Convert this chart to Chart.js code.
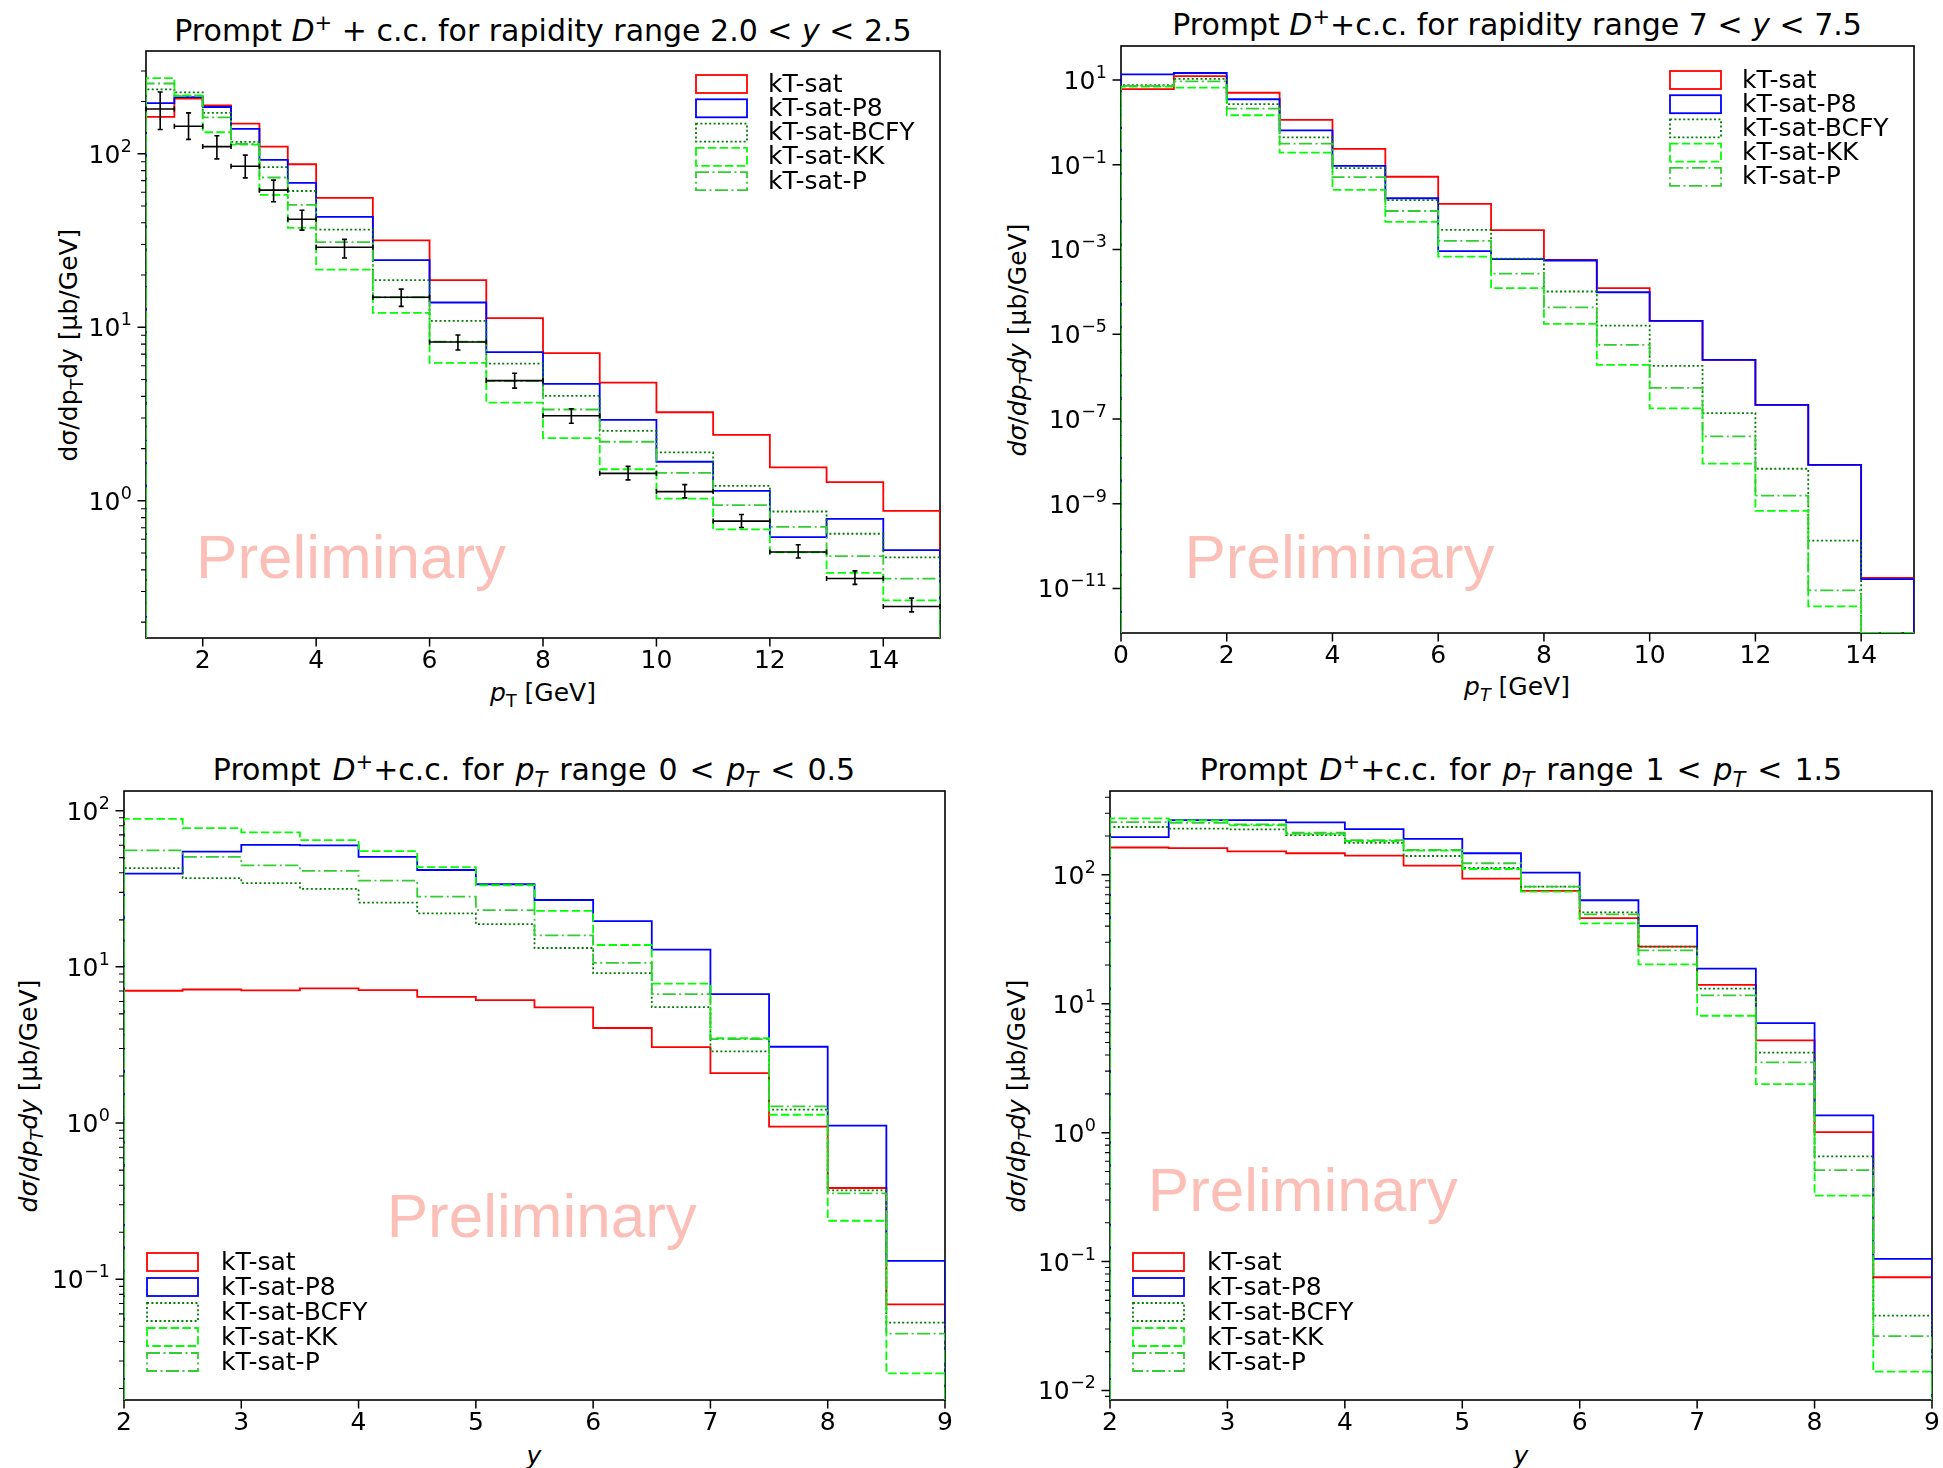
<!DOCTYPE html>
<html>
<head>
<meta charset="utf-8">
<title>Prompt D+ cross sections</title>
<script src="https://cdn.jsdelivr.net/npm/chart.js@4.4.1/dist/chart.umd.min.js"></script>
<style>
  html, body { margin: 0; padding: 0; background: #fff; }
  #fig { position: relative; width: 1943px; height: 1468px; overflow: hidden; font-family: 'DejaVu Sans', sans-serif; color: #000; }
  #fig canvas { position: absolute; }
  .ttl, .xl, .yl { position: absolute; white-space: nowrap; }
  .ttl { font-size: 30px; line-height: 30px; transform: translateX(-50%); }
  .ttl.wide { word-spacing: 2.4px; }
  .xl { font-size: 25px; line-height: 25px; transform: translateX(-50%); }
  .yl { font-size: 25px; line-height: 25px; transform: translate(-50%, -50%) rotate(-90deg); }
  sub, sup { font-size: 70%; line-height: 0; }
  i { font-style: oblique; }
</style>
</head>
<body>
<div id="fig">
  <div class="ttl" style="left:543px;top:16px">Prompt <i>D</i><sup>+</sup> + c.c. for rapidity range 2.0 &lt; <i>y</i> &lt; 2.5</div>
  <div class="ttl" style="left:1517px;top:10px">Prompt <i>D</i><sup>+</sup>+c.c. for rapidity range 7 &lt; <i>y</i> &lt; 7.5</div>
  <div class="ttl wide" style="left:534px;top:755px">Prompt <i>D</i><sup>+</sup>+c.c. for <i>p<sub>T</sub></i> range 0 &lt; <i>p<sub>T</sub></i> &lt; 0.5</div>
  <div class="ttl wide" style="left:1521px;top:755px">Prompt <i>D</i><sup>+</sup>+c.c. for <i>p<sub>T</sub></i> range 1 &lt; <i>p<sub>T</sub></i> &lt; 1.5</div>

  <div class="xl" style="left:543px;top:680px"><i>p</i><sub>T</sub> [GeV]</div>
  <div class="xl" style="left:1517px;top:674px"><i>p<sub>T</sub></i> [GeV]</div>
  <div class="xl" style="left:534px;top:1443px"><i>y</i></div>
  <div class="xl" style="left:1521px;top:1443px"><i>y</i></div>

  <div class="yl" style="left:68px;top:345px">dσ/dp<sub>T</sub>dy [μb/GeV]</div>
  <div class="yl" style="left:1017px;top:340px"><i>dσ</i>/<i>dp<sub>T</sub>dy</i> [μb/GeV]</div>
  <div class="yl" style="left:28px;top:1096px"><i>dσ</i>/<i>dp<sub>T</sub>dy</i> [μb/GeV]</div>
  <div class="yl" style="left:1016px;top:1096px"><i>dσ</i>/<i>dp<sub>T</sub>dy</i> [μb/GeV]</div>
</div>

<script>
'use strict'

// ---- model names and line styles ----
const models = ['kT-sat', 'kT-sat-P8', 'kT-sat-BCFY', 'kT-sat-KK', 'kT-sat-P']
const modelColors = ['#ff0000', '#0000ff', '#008000', '#00ff00', '#32cd32']
const modelDash = [[], [], [2, 2.4], [8.5, 3.3], [13, 3.5, 2, 3.5]]

// ---- bin edges ----
const ptEdgesA = [1, 1.5, 2, 2.5, 3, 3.5, 4, 5, 6, 7, 8, 9, 10, 11, 12, 13, 14, 15]
const ptEdgesB = [0, 1, 2, 3, 4, 5, 6, 7, 8, 9, 10, 11, 12, 13, 14, 15]
const yEdges = [2, 2.5, 3, 3.5, 4, 4.5, 5, 5.5, 6, 6.5, 7, 7.5, 8, 8.5, 9]

// ---- tick values ----
const xTicksA = [2, 4, 6, 8, 10, 12, 14]
const xTicksB = [0, 2, 4, 6, 8, 10, 12, 14]
const xTicksY = [2, 3, 4, 5, 6, 7, 8, 9]
const yExpA = [0, 1, 2]
const yExpB = [1, -1, -3, -5, -7, -9, -11]
const yExpC = [2, 1, 0, -1]
const yExpD = [2, 1, 0, -1, -2]

// ---- 2.0 < y < 2.5, dsigma/dpT dy [ub/GeV] ----
const satA = [163, 208, 190, 149, 110, 87, 55.7, 31.7, 18.7, 11.3, 7.09, 4.8, 3.24, 2.40, 1.56, 1.28, 0.876]
const p8A = [196, 212, 186, 139, 92.2, 68, 43.3, 24.4, 13.9, 7.2, 4.72, 2.93, 1.68, 1.14, 0.618, 0.787, 0.52]
const bcfyA = [235, 226, 172, 117, 83.7, 61, 36.5, 18.7, 10.9, 6.17, 4.02, 2.53, 1.90, 1.22, 0.868, 0.646, 0.472]
const kkA = [273, 217, 133, 113, 58, 37.4, 21.5, 12.1, 6.23, 3.68, 2.30, 1.52, 1.03, 0.684, 0.504, 0.384, 0.267]
const pA = [254, 215, 162, 114, 73, 50.8, 31.0, 14.9, 8.26, 4.9, 3.36, 2.19, 1.45, 0.945, 0.708, 0.48, 0.356]
// measurement with its error band
const dataA = [181, 144, 110, 84.8, 61.7, 41.9, 28.9, 14.9, 8.23, 4.93, 3.09, 1.44, 1.13, 0.764, 0.507, 0.357, 0.246]
const dataLoA = [138, 121, 93.5, 72.6, 52.9, 36.3, 25.1, 13.2, 7.4, 4.46, 2.80, 1.32, 1.04, 0.702, 0.468, 0.330, 0.229]
const dataHiA = [227, 172, 127, 98.2, 70.5, 47.3, 32.1, 16.6, 9.03, 5.43, 3.39, 1.58, 1.24, 0.834, 0.558, 0.395, 0.275]

// ---- 7 < y < 7.5 ----
const satB = [6.1, 12.4, 5.0, 1.14, 0.236, 0.052, 0.0119, 2.85e-3, 5.7e-4, 1.22e-4, 2.07e-5, 2.49e-6, 2.16e-7, 8.3e-9, 1.78e-11]
const p8B = [13.6, 14.6, 3.51, 0.65, 0.094, 0.0162, 9.1e-4, 5.9e-4, 5.5e-4, 9.8e-5, 2.07e-5, 2.49e-6, 2.16e-7, 8.3e-9, 1.66e-11]
const bcfyB = [7.6, 10.6, 2.7, 0.44, 0.083, 0.0146, 2.9e-3, 6.1e-4, 1.02e-4, 1.6e-5, 1.8e-6, 1.38e-7, 6.7e-9, 1.34e-10, 0]
const kkB = [6.95, 6.6, 1.47, 0.193, 0.0255, 4.5e-3, 6.8e-4, 1.22e-4, 1.76e-5, 1.9e-6, 1.78e-7, 8.8e-9, 6.8e-10, 3.8e-12, 0]
const pB = [7.3, 9.3, 2.1, 0.315, 0.051, 8.1e-3, 1.6e-3, 2.7e-4, 4.3e-5, 5.6e-6, 5.4e-7, 3.9e-8, 1.55e-9, 9e-12, 0]

// ---- 0 < pT < 0.5 ----
const satC = [7.03, 7.16, 7.08, 7.29, 7.1, 6.43, 6.13, 5.5, 4.06, 3.06, 2.09, 0.95, 0.384, 0.069]
const p8C = [39.5, 54.7, 60.3, 59.9, 50.6, 41.7, 33.8, 26.8, 19.6, 12.9, 6.7, 3.08, 0.962, 0.131]
const bcfyC = [42.8, 37.0, 34.4, 31.6, 25.8, 22.0, 18.8, 13.2, 9.12, 5.52, 2.88, 1.22, 0.371, 0.0528]
const kkC = [88.6, 77.2, 72.6, 64.8, 55.0, 43.5, 33.3, 22.8, 13.8, 7.8, 3.49, 1.13, 0.237, 0.025]
const pC = [55.7, 50.6, 44.6, 41.2, 35.6, 28.2, 23.1, 15.9, 10.6, 6.7, 3.45, 1.28, 0.355, 0.0449]

// ---- 1 < pT < 1.5 ----
const satD = [163, 161, 152, 147, 141, 118, 93.6, 75.2, 46.1, 27.7, 14.0, 5.2, 1.01, 0.0755]
const p8D = [196, 266, 266, 255, 226, 190, 147, 104, 63.5, 40.1, 18.7, 7.06, 1.36, 0.105]
const bcfyD = [235, 228, 225, 203, 177, 140, 113, 80.9, 51.1, 27.7, 13.1, 4.18, 0.654, 0.038]
const kkD = [274, 264, 242, 208, 183, 154, 111, 74.2, 42.0, 20.2, 8.07, 2.38, 0.325, 0.014]
const pD = [256, 253, 246, 212, 186, 156, 123, 81, 49.3, 25.9, 11.6, 3.51, 0.511, 0.0264]

// axes-box placement on the page: [left, top, right, bottom]
const panels = [
  {
    box: [146, 51, 940, 638], edges: ptEdgesA, series: [satA, p8A, bcfyA, kkA, pA],
    xMin: 1, xMax: 15, xTicks: xTicksA, yMin: 0.162, yMax: 391, yExp: yExpA, minor: true,
    mark: [0.063, 0.898],
    legend: { corner: 'tr', dx: 244, dy: 33, step: 24.3, text: 72 },
    errors: { edges: ptEdgesA, vals: dataA, lo: dataLoA, hi: dataHiA },
  },
  {
    box: [1121, 46, 1914, 633], edges: ptEdgesB, series: [satB, p8B, bcfyB, kkB, pB],
    xMin: 0, xMax: 15, xTicks: xTicksB, yMin: 8.9e-13, yMax: 63.4, yExp: yExpB, minor: false,
    mark: [0.080, 0.906],
    legend: { corner: 'tr', dx: 244, dy: 34, step: 24.2, text: 72 },
  },
  {
    box: [124, 791, 945, 1400], edges: yEdges, series: [satC, p8C, bcfyC, kkC, pC],
    xMin: 2, xMax: 9, xTicks: xTicksY, yMin: 0.01687, yMax: 133.6, yExp: yExpC, minor: true,
    mark: [0.320, 0.732],
    legend: { corner: 'bl', dx: 23, dy: 138, step: 25, text: 74 },
  },
  {
    box: [1110, 791, 1932, 1400], edges: yEdges, series: [satD, p8D, bcfyD, kkD, pD],
    xMin: 2, xMax: 9, xTicks: xTicksY, yMin: 0.00843, yMax: 447, yExp: yExpD, minor: true,
    mark: [0.046, 0.69],
    legend: { corner: 'bl', dx: 23, dy: 138, step: 25, text: 74 },
  },
]

const YW = 120
const PT = 24
const PR = 28
const XH = 50
const FONT = '"DejaVu Sans", sans-serif'

// histogram outline: starts and ends on the axis floor, empty bins sit on it too
function stepPoints(edges, vals, floor) {
  const pts = [{ x: edges[0], y: floor }]
  vals.forEach((v, i) => pts.push({ x: edges[i], y: v > 0 ? v : floor }))
  pts.push({ x: edges[edges.length - 1], y: floor })
  return pts
}

function powLabel(ctx, e, xr, py) {
  const exp = e < 0 ? '\u2212' + (-e) : String(e)
  ctx.font = '17.5px ' + FONT
  const ew = ctx.measureText(exp).width
  ctx.textAlign = 'left'
  ctx.fillText(exp, xr - ew, py - 2)
  ctx.font = '25px ' + FONT
  ctx.textAlign = 'right'
  ctx.fillText('10', xr - ew - 0.5, py + 9)
}

const panelDecor = {
  id: 'panelDecor',
  beforeDatasetsDraw(chart, _args, o) {
    const { ctx, chartArea: a } = chart
    ctx.save()
    ctx.font = '62px "Liberation Sans", Arial, sans-serif'
    ctx.fillStyle = 'rgba(250, 128, 114, 0.5)'
    ctx.textAlign = 'left'
    ctx.textBaseline = 'alphabetic'
    ctx.fillText('Preliminary', a.left + o.mark[0] * a.width, a.top + o.mark[1] * a.height)
    ctx.strokeStyle = '#000'
    ctx.lineWidth = 1.6
    ctx.strokeRect(a.left, a.top, a.width, a.height)
    ctx.restore()
  },
  afterDatasetsDraw(chart, _args, o) {
    const { ctx, chartArea: a } = chart
    const xs = chart.scales.x
    const ys = chart.scales.y
    ctx.save()
    ctx.strokeStyle = '#000'
    ctx.fillStyle = '#000'

    // x ticks
    ctx.lineWidth = 1.5
    ctx.beginPath()
    o.xTicks.forEach((t) => {
      const px = xs.getPixelForValue(t)
      ctx.moveTo(px, a.bottom)
      ctx.lineTo(px, a.bottom + 8.5)
    })
    ctx.stroke()

    // y ticks, decades labelled
    ctx.textBaseline = 'alphabetic'
    ctx.beginPath()
    o.yExp.forEach((e) => {
      const py = ys.getPixelForValue(Math.pow(10, e))
      ctx.moveTo(a.left - 8.5, py)
      ctx.lineTo(a.left, py)
      powLabel(ctx, e, a.left - 14, py)
    })
    ctx.stroke()
    if (o.minor) {
      ctx.lineWidth = 1.1
      ctx.beginPath()
      const lo = Math.floor(Math.log10(ys.min))
      const hi = Math.ceil(Math.log10(ys.max))
      for (let e = lo; e <= hi; e++) {
        for (let s = 2; s <= 9; s++) {
          const v = s * Math.pow(10, e)
          if (v < ys.min || v > ys.max) continue
          const py = ys.getPixelForValue(v)
          ctx.moveTo(a.left - 5, py)
          ctx.lineTo(a.left, py)
        }
      }
      ctx.stroke()
    }

    // measured points with bin-width and uncertainty bars
    if (o.errors) {
      const { edges, vals, lo, hi } = o.errors
      ctx.lineWidth = 1.6
      ctx.beginPath()
      vals.forEach((v, i) => {
        const xl = xs.getPixelForValue(edges[i])
        const xr = xs.getPixelForValue(edges[i + 1])
        const xc = (xl + xr) / 2
        const yc = ys.getPixelForValue(v)
        const y0 = ys.getPixelForValue(lo[i])
        const y1 = ys.getPixelForValue(hi[i])
        ctx.moveTo(xl, yc); ctx.lineTo(xr, yc)
        ctx.moveTo(xc, y0); ctx.lineTo(xc, y1)
        ctx.moveTo(xl, yc - 2.5); ctx.lineTo(xl, yc + 2.5)
        ctx.moveTo(xr, yc - 2.5); ctx.lineTo(xr, yc + 2.5)
        ctx.moveTo(xc - 2.5, y0); ctx.lineTo(xc + 2.5, y0)
        ctx.moveTo(xc - 2.5, y1); ctx.lineTo(xc + 2.5, y1)
      })
      ctx.stroke()
    }

    // legend with outlined patches
    const lg = o.legend
    const bx = lg.corner === 'tr' ? a.right - lg.dx : a.left + lg.dx
    const by = lg.corner === 'tr' ? a.top + lg.dy : a.bottom - lg.dy
    chart.data.datasets.forEach((ds, i) => {
      const cy = by + i * lg.step
      ctx.save()
      ctx.strokeStyle = ds.borderColor
      ctx.lineWidth = ds.borderWidth
      ctx.setLineDash(ds.borderDash)
      ctx.strokeRect(bx, cy - 9, 51, 18)
      ctx.restore()
      ctx.font = '25px ' + FONT
      ctx.textAlign = 'left'
      ctx.textBaseline = 'middle'
      ctx.fillText(ds.label, bx + lg.text, cy + 1)
    })
    ctx.restore()
  },
}

const fig = document.getElementById('fig')

panels.forEach((p) => {
  const [l, t, r, b] = p.box
  const cv = document.createElement('canvas')
  cv.width = r - l + YW + PR
  cv.height = b - t + PT + XH
  cv.style.left = (l - YW) + 'px'
  cv.style.top = (t - PT) + 'px'
  fig.appendChild(cv)

  const datasets = p.series.map((vals, i) => ({
    label: models[i],
    data: stepPoints(p.edges, vals, p.yMin),
    borderColor: modelColors[i],
    borderWidth: 1.8,
    borderDash: modelDash[i],
    borderCapStyle: 'butt',
    borderJoinStyle: 'miter',
    pointRadius: 0,
    fill: false,
    stepped: 'before',
    order: models.length - i,
  }))

  new Chart(cv, {
    type: 'line',
    data: { datasets },
    plugins: [panelDecor],
    options: {
      responsive: false,
      animation: false,
      events: [],
      layout: { padding: { top: PT, right: PR, left: 0, bottom: 0 } },
      plugins: {
        legend: { display: false },
        tooltip: { enabled: false },
        panelDecor: {
          xTicks: p.xTicks, yExp: p.yExp, minor: p.minor, mark: p.mark,
          legend: p.legend, errors: p.errors,
        },
      },
      scales: {
        x: {
          type: 'linear',
          min: p.xMin,
          max: p.xMax,
          afterBuildTicks(s) { s.ticks = p.xTicks.map((v) => ({ value: v })) },
          afterFit(s) { s.height = XH },
          grid: { display: false, drawTicks: false },
          border: { display: false },
          ticks: {
            autoSkip: false,
            maxRotation: 0,
            padding: 8,
            color: '#000',
            font: { family: 'DejaVu Sans', size: 25, lineHeight: 1.2 },
            callback: (v) => String(v),
          },
        },
        y: {
          type: 'logarithmic',
          min: p.yMin,
          max: p.yMax,
          afterBuildTicks(s) { s.ticks = p.yExp.map((e) => ({ value: Math.pow(10, e) })) },
          afterFit(s) { s.width = YW },
          grid: { display: false, drawTicks: false },
          border: { display: false },
          ticks: { display: false },
        },
      },
    },
  })
})
</script>
</body>
</html>
